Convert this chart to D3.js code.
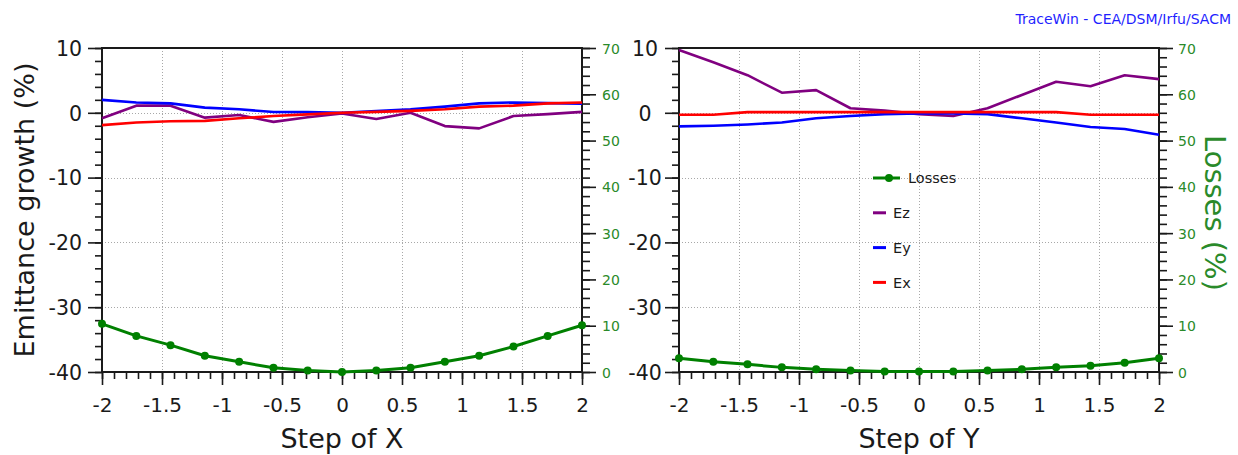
<!DOCTYPE html>
<html>
<head>
<meta charset="utf-8">
<script src="https://cdn.jsdelivr.net/npm/d3@7"></script>
<style>
  html, body { margin: 0; padding: 0; background: #fff; }
  svg { display: block; font-family: "DejaVu Sans", Verdana, sans-serif; }
</style>
</head>
<body>
<svg id="chart" width="1238" height="455"></svg>
<script>
// Scan positions (same grid for both scans)
const steps = [-2, -1.714, -1.429, -1.143, -0.857, -0.571, -0.286, 0, 0.286, 0.571, 0.857, 1.143, 1.429, 1.714, 2];

// Scan of X: emittance growth (%) and losses (%)
const exScanX = [-1.9, -1.5, -1.3, -1.25, -0.85, -0.5, -0.25, 0, 0.15, 0.3, 0.55, 0.95, 1.1, 1.45, 1.6];
const eyScanX = [2.0, 1.6, 1.45, 0.8, 0.55, 0.12, 0.1, 0, 0.28, 0.55, 0.95, 1.45, 1.6, 1.5, 1.4];
const ezScanX = [-0.85, 1.1, 1.1, -0.75, -0.35, -1.4, -0.7, -0.1, -0.95, 0.0, -2.05, -2.4, -0.5, -0.2, 0.15];
const lossScanX = [10.4, 7.8, 5.8, 3.5, 2.2, 0.9, 0.3, 0, 0.35, 0.9, 2.2, 3.5, 5.5, 7.8, 10.1];

// Scan of Y
const exScanY = [-0.3, -0.3, 0.1, 0.1, 0.1, 0.1, 0.1, 0.1, 0.1, 0.1, 0.1, 0.1, -0.3, -0.3, -0.3];
const eyScanY = [-2.1, -2.0, -1.8, -1.5, -0.85, -0.5, -0.2, -0.1, -0.1, -0.2, -0.85, -1.5, -2.2, -2.5, -3.4];
const ezScanY = [9.7, 7.8, 5.8, 3.1, 3.5, 0.7, 0.33, -0.2, -0.5, 0.7, 2.75, 4.8, 4.1, 5.8, 5.2];
const lossScanY = [2.95, 2.2, 1.65, 1.0, 0.6, 0.3, 0.1, 0.1, 0.1, 0.3, 0.6, 1.0, 1.37, 2.0, 2.95];

// Axis ticks
const xMajorTicks = [-2, -1.5, -1, -0.5, 0, 0.5, 1, 1.5, 2];
const emitTicks = [10, 0, -10, -20, -30, -40];
const lossTicks = [70, 60, 50, 40, 30, 20, 10, 0];

// Legend entries
const legendNames = ["Losses", "Ez", "Ey", "Ex"];

const colors = { Ex: "#ff0000", Ey: "#0000ff", Ez: "#800080", Losses: "#008000" };
const greenText = "#2a8a2a";
const inkColor = "#1a1a1a";

const svg = d3.select("#chart");
const TOP = 48, BOTTOM = 372;

const yEmit = d3.scaleLinear().domain([-40, 10]).range([BOTTOM, TOP]);
const yLoss = d3.scaleLinear().domain([0, 70]).range([BOTTOM, TOP]);

const panels = [
  { x0: 102, x1: 582, title: "Step of X", ex: exScanX, ey: eyScanX, ez: ezScanX, loss: lossScanX,
    leftLabelX: 82, leftAnchor: "end", rightLabelX: 602 },
  { x0: 679, x1: 1159, title: "Step of Y", ex: exScanY, ey: eyScanY, ez: ezScanY, loss: lossScanY,
    leftLabelX: 645, leftAnchor: "middle", rightLabelX: 1178 }
];

function minorValues(lo, hi, step) {
  const out = [];
  const n = Math.round((hi - lo) / step);
  for (let i = 0; i <= n; i++) out.push(+(lo + i * step).toFixed(6));
  return out;
}

panels.forEach(p => {
  const x = d3.scaleLinear().domain([-2, 2]).range([p.x0, p.x1]);
  const g = svg.append("g");

  // grid
  const grid = g.append("g").attr("stroke", "#a8a8a8").attr("stroke-width", 1).attr("stroke-dasharray", "1,2");
  grid.selectAll("line.v").data(xMajorTicks).join("line")
    .attr("x1", d => Math.round(x(d)) + 0.5).attr("x2", d => Math.round(x(d)) + 0.5)
    .attr("y1", TOP).attr("y2", BOTTOM);
  grid.selectAll("line.h").data(emitTicks).join("line")
    .attr("x1", p.x0).attr("x2", p.x1)
    .attr("y1", d => Math.round(yEmit(d)) + 0.5).attr("y2", d => Math.round(yEmit(d)) + 0.5);

  // bottom axis: minor + major ticks
  const xMinor = d3.axisBottom(x).tickValues(minorValues(-2, 2, 0.1)).tickSize(7).tickSizeOuter(0).tickFormat("");
  const xMajor = d3.axisBottom(x).tickValues(xMajorTicks).tickSize(13).tickSizeOuter(0).tickPadding(8)
    .tickFormat(d => String(d));
  const gxm = g.append("g").attr("transform", `translate(0,${BOTTOM})`).call(xMinor);
  const gx = g.append("g").attr("transform", `translate(0,${BOTTOM})`).call(xMajor);

  // left axis (emittance)
  const yMinor = d3.axisLeft(yEmit).tickValues(minorValues(-40, 10, 2)).tickSize(7).tickSizeOuter(0).tickFormat("");
  const yMajor = d3.axisLeft(yEmit).tickValues(emitTicks).tickSize(14).tickSizeOuter(0).tickFormat(d => String(d));
  const gym = g.append("g").attr("transform", `translate(${p.x0},0)`).call(yMinor);
  const gy = g.append("g").attr("transform", `translate(${p.x0},0)`).call(yMajor);

  // right axis (losses)
  const rMinor = d3.axisRight(yLoss).tickValues(minorValues(0, 70, 2)).tickSize(8).tickSizeOuter(0).tickFormat("");
  const rMajor = d3.axisRight(yLoss).tickValues(lossTicks).tickSize(14).tickSizeOuter(0).tickFormat(d => String(d));
  const grm = g.append("g").attr("transform", `translate(${p.x1},0)`).call(rMinor);
  const gr = g.append("g").attr("transform", `translate(${p.x1},0)`).call(rMajor);

  [gxm, gx, gym, gy, grm, gr].forEach(a => {
    a.select(".domain").remove();
    a.selectAll(".tick line").attr("stroke", inkColor).attr("stroke-width", 1.6);
  });

  gx.selectAll(".tick text")
    .attr("font-size", 20).attr("fill", inkColor).attr("font-family", "DejaVu Sans")
    .attr("y", null).attr("dy", null)
    .attr("transform", `translate(0,${412 - BOTTOM})`);

  gy.selectAll(".tick text")
    .attr("font-size", 20.5).attr("fill", inkColor).attr("font-family", "DejaVu Sans")
    .attr("text-anchor", p.leftAnchor)
    .attr("x", p.leftLabelX - p.x0).attr("dy", "0.36em");

  gr.selectAll(".tick text")
    .attr("font-size", 14).attr("fill", greenText).attr("font-family", "DejaVu Sans")
    .attr("text-anchor", "start")
    .attr("x", p.rightLabelX - p.x1).attr("dy", "0.36em");

  // plot frame
  g.append("rect")
    .attr("x", p.x0).attr("y", TOP).attr("width", p.x1 - p.x0).attr("height", BOTTOM - TOP)
    .attr("fill", "none").attr("stroke", inkColor).attr("stroke-width", 2);

  // series
  const line = yScale => d3.line().x((d, i) => x(steps[i])).y(d => yScale(d));
  const series = [
    { key: "Ez", values: p.ez, y: yEmit },
    { key: "Ey", values: p.ey, y: yEmit },
    { key: "Ex", values: p.ex, y: yEmit }
  ];
  series.forEach(s => {
    g.append("path").datum(s.values)
      .attr("d", line(s.y))
      .attr("fill", "none").attr("stroke", colors[s.key]).attr("stroke-width", 2.6)
      .attr("stroke-linejoin", "round");
  });

  g.append("path").datum(p.loss)
    .attr("d", line(yLoss))
    .attr("fill", "none").attr("stroke", colors.Losses).attr("stroke-width", 3)
    .attr("stroke-linejoin", "round");
  g.selectAll("circle.loss").data(p.loss).join("circle")
    .attr("class", "loss")
    .attr("cx", (d, i) => x(steps[i])).attr("cy", d => yLoss(d)).attr("r", 4)
    .attr("fill", colors.Losses);

  // x-axis title
  g.append("text")
    .attr("x", (p.x0 + p.x1) / 2).attr("y", 448)
    .attr("text-anchor", "middle").attr("font-size", 27).attr("fill", inkColor)
    .text(p.title);
});

// left axis title
svg.append("text")
  .attr("transform", `translate(34,${(TOP + BOTTOM) / 2}) rotate(-90)`)
  .attr("text-anchor", "middle").attr("font-size", 27).attr("fill", inkColor)
  .text("Emittance growth (%)");

// right axis title
svg.append("text")
  .attr("transform", `translate(1205,${(TOP + BOTTOM) / 2 + 3}) rotate(90)`)
  .attr("text-anchor", "middle").attr("font-size", 29).attr("fill", greenText)
  .text("Losses (%)");

// legend
const legend = svg.append("g");
legendNames.forEach((name, i) => {
  const ly = 178 + i * 34.8;
  const item = legend.append("g");
  if (name === "Losses") {
    item.append("line").attr("x1", 873).attr("x2", 900).attr("y1", ly).attr("y2", ly)
      .attr("stroke", colors[name]).attr("stroke-width", 3);
    item.append("circle").attr("cx", 889).attr("cy", ly).attr("r", 4).attr("fill", colors[name]);
    item.append("text").attr("x", 908).attr("y", ly).attr("dy", "0.36em")
      .attr("font-size", 14.5).attr("fill", inkColor).text(name);
  } else {
    item.append("line").attr("x1", 873).attr("x2", 886).attr("y1", ly).attr("y2", ly)
      .attr("stroke", colors[name]).attr("stroke-width", 3);
    item.append("text").attr("x", 893).attr("y", ly).attr("dy", "0.36em")
      .attr("font-size", 14.5).attr("fill", inkColor).text(name);
  }
});

// credit line
svg.append("text")
  .attr("x", 1231).attr("y", 24).attr("text-anchor", "end")
  .attr("font-size", 14).attr("fill", "#1f1fff")
  .text("TraceWin - CEA/DSM/Irfu/SACM");
</script>
</body>
</html>
